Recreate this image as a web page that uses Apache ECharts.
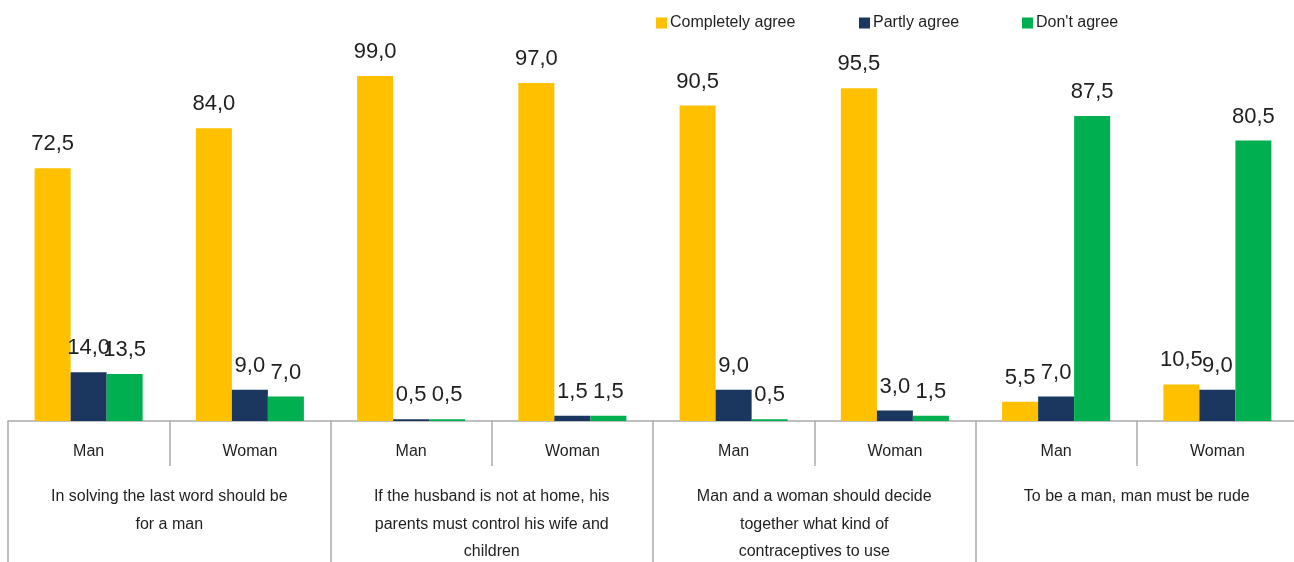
<!DOCTYPE html>
<html>
<head>
<meta charset="utf-8">
<script src="https://cdn.jsdelivr.net/npm/echarts@6/dist/echarts.min.js"></script>
<style>
html,body{margin:0;padding:0;background:#fff;}
#chart{width:1294px;height:562px;}
</style>
</head>
<body>
<div id="chart"></div>
<script>
const categories = ['Man','Woman','Man','Woman','Man','Woman','Man','Woman'];
const groups = [
  'In solving the last word should be\nfor a man',
  'If the husband is not at home, his\nparents must control his wife and\nchildren',
  'Man and a woman should decide\ntogether what kind of\ncontraceptives to use',
  'To be a man, man must be rude'
];
const seriesNames = ['Completely agree','Partly agree',"Don't agree"];
const completelyAgree = [72.5, 84.0, 99.0, 97.0, 90.5, 95.5, 5.5, 10.5];
const partlyAgree = [14.0, 9.0, 0.5, 1.5, 9.0, 3.0, 7.0, 9.0];
const dontAgree = [13.5, 7.0, 0.5, 1.5, 0.5, 1.5, 87.5, 80.5];
const colors = ['#FFC000','#1B365F','#00B050'];

const FONT = 'Liberation Sans, Arial, sans-serif';
const TXT = '#1f1f1f';
const GRID_LINE = '#ABABAB';

const chart = echarts.init(document.getElementById('chart'));
const values = [completelyAgree, partlyAgree, dontAgree];
const legendLefts = [651, 854, 1017];

const option = {
  animation: false,
  backgroundColor: '#ffffff',
  textStyle: {fontFamily: FONT},
  legend: seriesNames.map((n, i) => ({
    data: [n],
    left: legendLefts[i],
    top: 10,
    itemWidth: 11,
    itemHeight: 11,
    itemGap: 0,
    icon: 'rect',
    textStyle: {fontFamily: FONT, fontSize: 16, color: TXT, padding: [0,0,0,-2]}
  })),
  grid: {left: 8, width: 1290, top: 72.5, height: 348.5, containLabel: false, outerBoundsMode: 'none'},
  xAxis: [
    {
      type: 'category',
      data: categories,
      position: 'bottom',
      axisLine: {show: true, lineStyle: {color: GRID_LINE, width: 1.5}},
      axisTick: {show: true, length: 45, interval: 0, lineStyle: {color: GRID_LINE, width: 1.5}},
      axisLabel: {fontFamily: FONT, fontSize: 16, color: TXT, margin: 23, interval: 0}
    },
    {
      type: 'category',
      data: groups,
      position: 'bottom',
      axisLine: {show: false},
      axisTick: {show: true, length: 145, interval: 0, lineStyle: {color: GRID_LINE, width: 1.5}},
      axisLabel: {fontFamily: FONT, fontSize: 16, color: TXT, margin: 62, interval: 0,
        lineHeight: 27.5, verticalAlign: 'top', align: 'center'}
    }
  ],
  yAxis: {type: 'value', min: 0, max: 100, show: false, splitLine: {show: false}},
  series: seriesNames.map((n, i) => ({
    name: n,
    type: 'bar',
    xAxisIndex: 0,
    data: values[i],
    barGap: '0%',
    barCategoryGap: '33%',
    itemStyle: {color: colors[i]},
    label: {
      show: true,
      position: 'top',
      distance: 13,
      fontFamily: FONT,
      fontSize: 22,
      color: TXT,
      formatter: p => p.value.toFixed(1).replace('.', ',')
    }
  }))
};
chart.setOption(option);
</script>
</body>
</html>
